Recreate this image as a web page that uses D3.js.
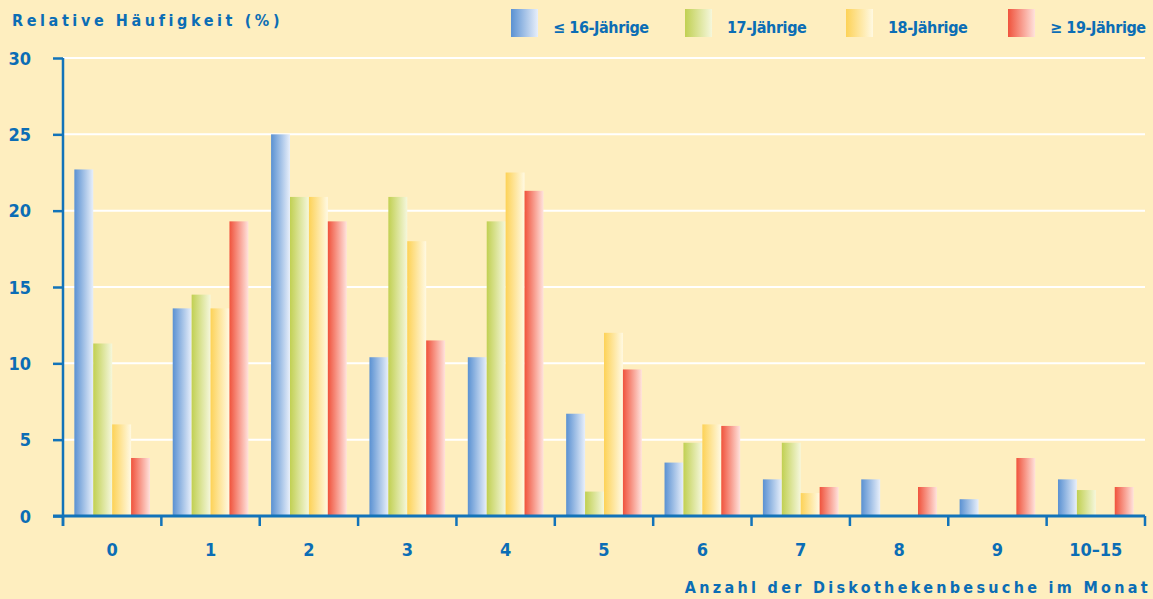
<!DOCTYPE html>
<html>
<head>
<meta charset="utf-8">
<script src="https://cdn.jsdelivr.net/npm/d3@7"></script>
<style>
  body { margin: 0; background: #feeebf; }
  svg { display: block; }
  text { font-family: "DejaVu Sans Condensed", "DejaVu Sans", sans-serif; font-stretch: condensed; font-weight: bold; font-style: normal; fill: #0b6db5; }
</style>
</head>
<body>
<div class="chartWrap"></div>
<script>
// data
var categories = ['0', '1', '2', '3', '4', '5', '6', '7', '8', '9', '10–15'];
var seriesNames = ['≤ 16-Jährige', '17-Jährige', '18-Jährige', '≥ 19-Jährige'];
var age16 = [22.7, 13.6, 25.0, 10.4, 10.4, 6.7, 3.5, 2.4, 2.4, 1.1, 2.4];
var age17 = [11.3, 14.5, 20.9, 20.9, 19.3, 1.6, 4.8, 4.8, 0, 0, 1.7];
var age18 = [6.0, 13.6, 20.9, 18.0, 22.5, 12.0, 6.0, 1.5, 0, 0, 0];
var age19 = [3.8, 19.3, 19.3, 11.5, 21.3, 9.6, 5.9, 1.9, 1.9, 3.8, 1.9];
var yTicks = [0, 5, 10, 15, 20, 25, 30];

var colors = [
  ['#5a91d2', '#e8effa'],
  ['#c1d052', '#f5f7dc'],
  ['#fdd257', '#fff9e2'],
  ['#f0533c', '#ffe2dc']
];

var width = 1153, height = 599;
var margin = {left: 63, right: 8, top: 58, bottom: 83};
var axisCol = '#1273b9';

var svg = d3.select('.chartWrap').append('svg')
  .attr('width', width)
  .attr('height', height);

svg.append('rect').attr('width', width).attr('height', height).attr('fill', '#feeebf');

var defs = svg.append('defs');
colors.forEach(function(c, i){
  var g = defs.append('linearGradient').attr('id', 'grad' + i)
    .attr('x1', '0%').attr('x2', '100%').attr('y1', '0%').attr('y2', '0%');
  g.append('stop').attr('offset', '0%').attr('stop-color', c[0]);
  g.append('stop').attr('offset', '100%').attr('stop-color', c[1]);
});

var x0 = d3.scaleBand()
  .domain(categories)
  .range([margin.left, width - margin.right])
  .paddingInner(0).paddingOuter(0);

var x1 = d3.scaleBand()
  .domain(d3.range(seriesNames.length))
  .range([0, x0.bandwidth()])
  .paddingInner(0).paddingOuter(0.6);

var y = d3.scaleLinear()
  .domain([0, 30])
  .range([height - margin.bottom, margin.top]);

// white gridlines
svg.append('g').selectAll('line')
  .data(yTicks.filter(function(d){ return d > 0; }))
  .enter().append('line')
  .attr('x1', margin.left).attr('x2', width - margin.right)
  .attr('y1', function(d){ return y(d); })
  .attr('y2', function(d){ return y(d); })
  .attr('stroke', '#ffffff').attr('stroke-width', 2);

// bars
var series = [age16, age17, age18, age19];
var groups = svg.append('g').selectAll('g')
  .data(categories)
  .enter().append('g')
  .attr('transform', function(d){ return 'translate(' + x0(d) + ',0)'; });

groups.selectAll('rect')
  .data(function(d, i){ return series.map(function(s, k){ return {k: k, v: s[i]}; }); })
  .enter().append('rect')
  .filter(function(d){ return d.v > 0; })
  .attr('x', function(d){ return x1(d.k); })
  .attr('width', x1.bandwidth())
  .attr('y', function(d){ return y(d.v); })
  .attr('height', function(d){ return y(0) - y(d.v); })
  .attr('fill', function(d){ return 'url(#grad' + d.k + ')'; });

// y axis
var yAxis = svg.append('g')
  .attr('transform', 'translate(' + margin.left + ',0)')
  .call(d3.axisLeft(y).tickValues(yTicks).tickSize(10).tickSizeOuter(0).tickPadding(22));
yAxis.select('.domain').attr('stroke', axisCol).attr('stroke-width', 2.5)
  .attr('d', 'M0,' + y(30) + 'V' + (y(0) + 10));
yAxis.selectAll('.tick line').attr('stroke', axisCol).attr('stroke-width', 2.5);
yAxis.selectAll('.tick text').attr('font-size', 18).attr('fill', '#0b6db5')
  .attr('font-family', null).attr('dy', '0.35em');

// x axis
var xAxis = svg.append('g')
  .attr('transform', 'translate(0,' + y(0) + ')');
xAxis.append('line')
  .attr('x1', margin.left - 10).attr('x2', width - margin.right)
  .attr('stroke', axisCol).attr('stroke-width', 3);
var xTickPos = categories.map(function(c){ return x0(c); }).concat([x0.range()[1]]);
xAxis.selectAll('.xtick').data(xTickPos).enter().append('line')
  .attr('class', 'xtick')
  .attr('x1', function(d){ return d; }).attr('x2', function(d){ return d; })
  .attr('y1', 0).attr('y2', 10)
  .attr('stroke', axisCol).attr('stroke-width', 2.5);
xAxis.selectAll('.xlabel').data(categories).enter().append('text')
  .attr('class', 'xlabel')
  .attr('x', function(d){ return x0(d) + x0.bandwidth() / 2; })
  .attr('y', 40)
  .attr('text-anchor', 'middle')
  .attr('font-size', 18)
  .text(function(d){ return d; });

// titles
svg.append('text')
  .attr('x', 12).attr('y', 26)
  .attr('font-size', 16).attr('letter-spacing', 3.6)
  .text('Relative Häufigkeit (%)');

svg.append('text')
  .attr('x', 1151).attr('y', 593)
  .attr('text-anchor', 'end')
  .attr('font-size', 16).attr('letter-spacing', 3.3)
  .text('Anzahl der Diskothekenbesuche im Monat');

// legend
var legendX = [511, 685, 846, 1008];
var legend = svg.append('g').selectAll('g')
  .data(seriesNames)
  .enter().append('g')
  .attr('transform', function(d, i){ return 'translate(' + legendX[i] + ',9)'; });
legend.append('rect')
  .attr('width', 27).attr('height', 28)
  .attr('fill', function(d, i){ return 'url(#grad' + i + ')'; });
legend.append('text')
  .attr('x', 42)
  .attr('y', 24)
  .attr('font-size', 16)
  .attr('letter-spacing', -0.4)
  .text(function(d){ return d; });
</script>
</body>
</html>
